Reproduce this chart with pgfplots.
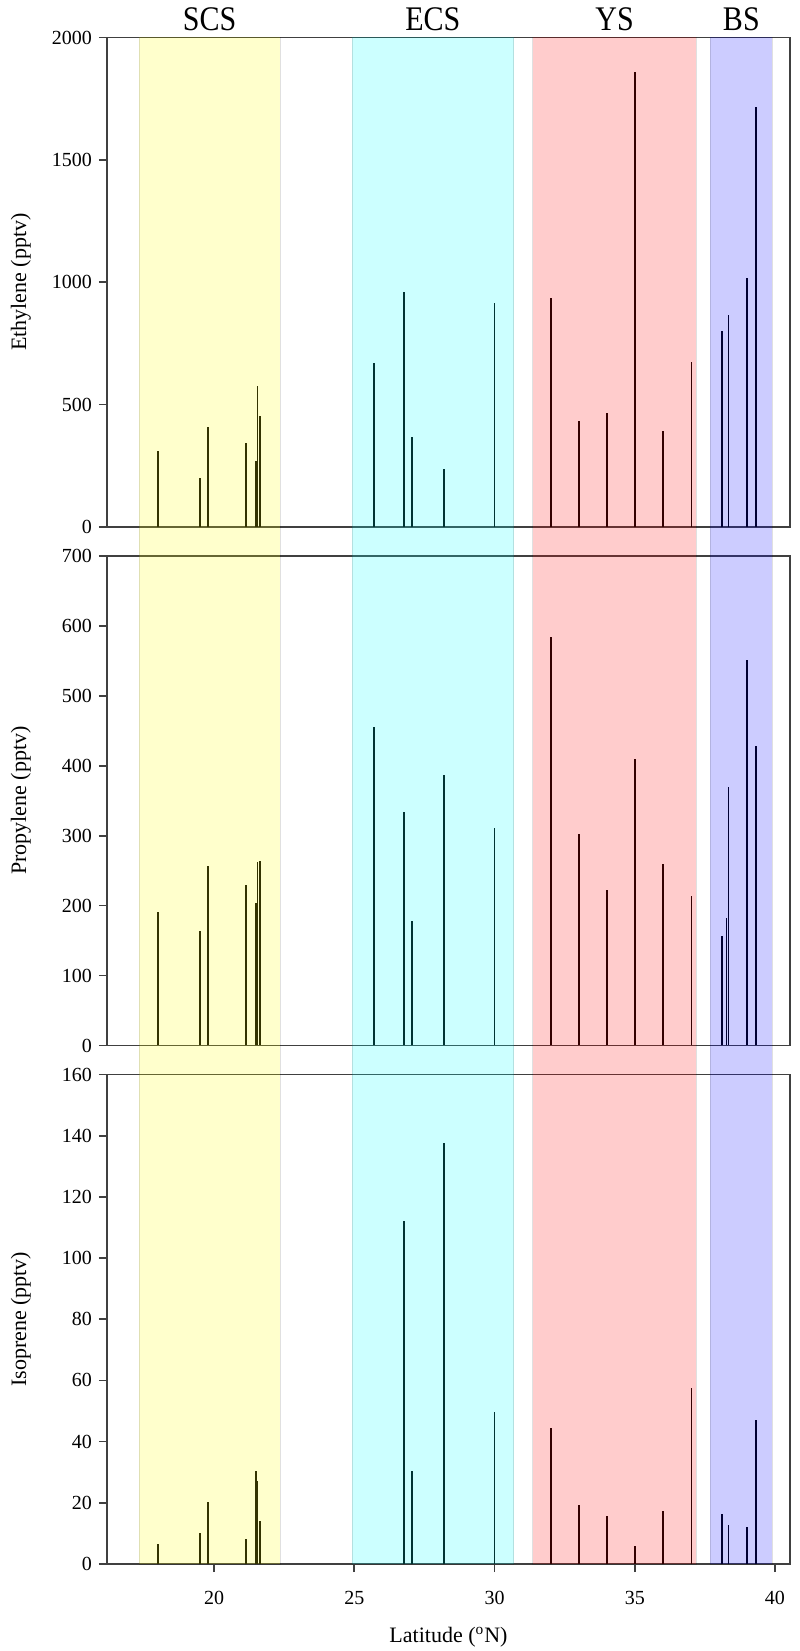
\documentclass[border=0pt]{standalone}
\usepackage{pgfplots}
\pgfplotsset{compat=1.18}
\usepackage{fontspec}
\setmainfont{Liberation Serif}

\definecolor{bandY}{rgb}{1,1,0}
\definecolor{bandC}{rgb}{0,1,1}
\definecolor{bandR}{rgb}{1,0,0}
\definecolor{bandB}{rgb}{0,0,1}
\definecolor{spine}{rgb}{0.25,0.25,0.25}

\pgfplotsset{
  panel/.style={
    scale only axis, width=341.5pt, height=244.75pt,
    xmin=16.185, xmax=40.535,
    axis line style={spine, line width=0.85pt},
    tick style={spine, line width=0.85pt},
    major tick length=4pt,
    tick align=outside,
    xtick pos=bottom, ytick pos=left,
    /pgf/number format/assume math mode=true,
    /pgf/number format/set thousands separator={},
    ticklabel style={font=\fontsize{10}{12}\selectfont},
    xticklabel style={yshift=-6pt},
    label style={font=\fontsize{11}{13}\selectfont},
    ylabel style={at={(axis description cs:-0.126,0.5)}, anchor=center},
    clip=false,
  },
  stick/.style={ycomb, black, line width=0.9pt, mark=none},
}

\pgfplotstableread{
lat val
18.0 312
19.5 201
19.8 410
21.13 343
21.5 271
21.55 576
21.63 452
25.7 672
26.76 961
27.05 367
28.19 236
30.0 916
32.0 934
33.0 432
34.0 464
35.0 1861
36.0 391
37.02 675
38.1 802
38.34 868
38.99 1018
39.32 1714
}\ethylene

\pgfplotstableread{
lat val
18.0 191
19.5 164
19.8 256
21.13 229
21.5 204
21.55 262
21.63 264
25.7 456
26.76 334
27.05 178
28.19 387
30.0 311
32.0 584
33.0 302
34.0 223
35.0 410
36.0 259
37.02 214
38.1 156
38.27 182
38.34 369
38.99 551
39.32 429
}\propylene

\pgfplotstableread{
lat val
18.0 6.4
19.5 10.2
19.8 20.4
21.13 8.2
21.5 30.5
21.55 27.2
21.63 14.0
26.76 112
27.05 30.5
28.19 137.7
30.0 49.8
32.0 44.5
33.0 19.3
34.0 15.6
35.0 5.9
36.0 17.3
37.02 57.5
38.1 16.2
38.34 12.8
38.99 12.0
39.32 47.0
}\isoprene

\begin{document}
\begin{tikzpicture}
% Panel 1: Ethylene
\begin{axis}[panel, at={(0pt,518.5pt)}, anchor=south west,
  ymin=0, ymax=2000, ytick={0,500,1000,1500,2000}, xtick=\empty,
  ylabel={Ethylene (pptv)}]
  \addplot[stick] table[x=lat, y=val] {\ethylene};
  \node[font=\fontsize{15}{18}\selectfont] at (axis cs:19.84,2000) [yshift=9pt] {\scalebox{1}[1.15]{SCS}};
  \node[font=\fontsize{15}{18}\selectfont] at (axis cs:27.8,2000) [yshift=9pt] {\scalebox{1}[1.15]{ECS}};
  \node[font=\fontsize{15}{18}\selectfont] at (axis cs:34.28,2000) [yshift=9pt] {\scalebox{1}[1.15]{YS}};
  \node[font=\fontsize{15}{18}\selectfont] at (axis cs:38.8,2000) [yshift=9pt] {\scalebox{1}[1.15]{BS}};
\end{axis}
% Panel 2: Propylene
\begin{axis}[panel, at={(0pt,259.25pt)}, anchor=south west,
  ymin=0, ymax=700, ytick={0,100,...,700}, xtick=\empty,
  ylabel={Propylene (pptv)}]
  \addplot[stick] table[x=lat, y=val] {\propylene};
\end{axis}
% Panel 3: Isoprene
\begin{axis}[panel, at={(0pt,0pt)}, anchor=south west,
  ymin=0, ymax=160, ytick={0,20,...,160}, xtick={20,25,30,35,40},
  ylabel={Isoprene (pptv)},
  xlabel={Latitude (\textsuperscript{o}N)},
  xlabel style={at={(axis description cs:0.5,-0.149)}, anchor=center}]
  \addplot[stick] table[x=lat, y=val] {\isoprene};
  \fill[bandY, fill opacity=0.2, draw=black, draw opacity=0.12, line width=0.4pt] (axis cs:17.33,0) rectangle (axis cs:22.35,498.96);
  \fill[bandC, fill opacity=0.2, draw=black, draw opacity=0.12, line width=0.4pt] (axis cs:24.93,0) rectangle (axis cs:30.68,498.96);
  \fill[bandR, fill opacity=0.2, draw=black, draw opacity=0.12, line width=0.4pt] (axis cs:31.36,0) rectangle (axis cs:37.2,498.96);
  \fill[bandB, fill opacity=0.2, draw=black, draw opacity=0.12, line width=0.4pt] (axis cs:37.7,0) rectangle (axis cs:39.9,498.96);
\end{axis}
\pgfresetboundingbox
\path[use as bounding box] (-53.5pt,-43.5pt) rectangle (346pt,782pt);
\end{tikzpicture}
\end{document}
